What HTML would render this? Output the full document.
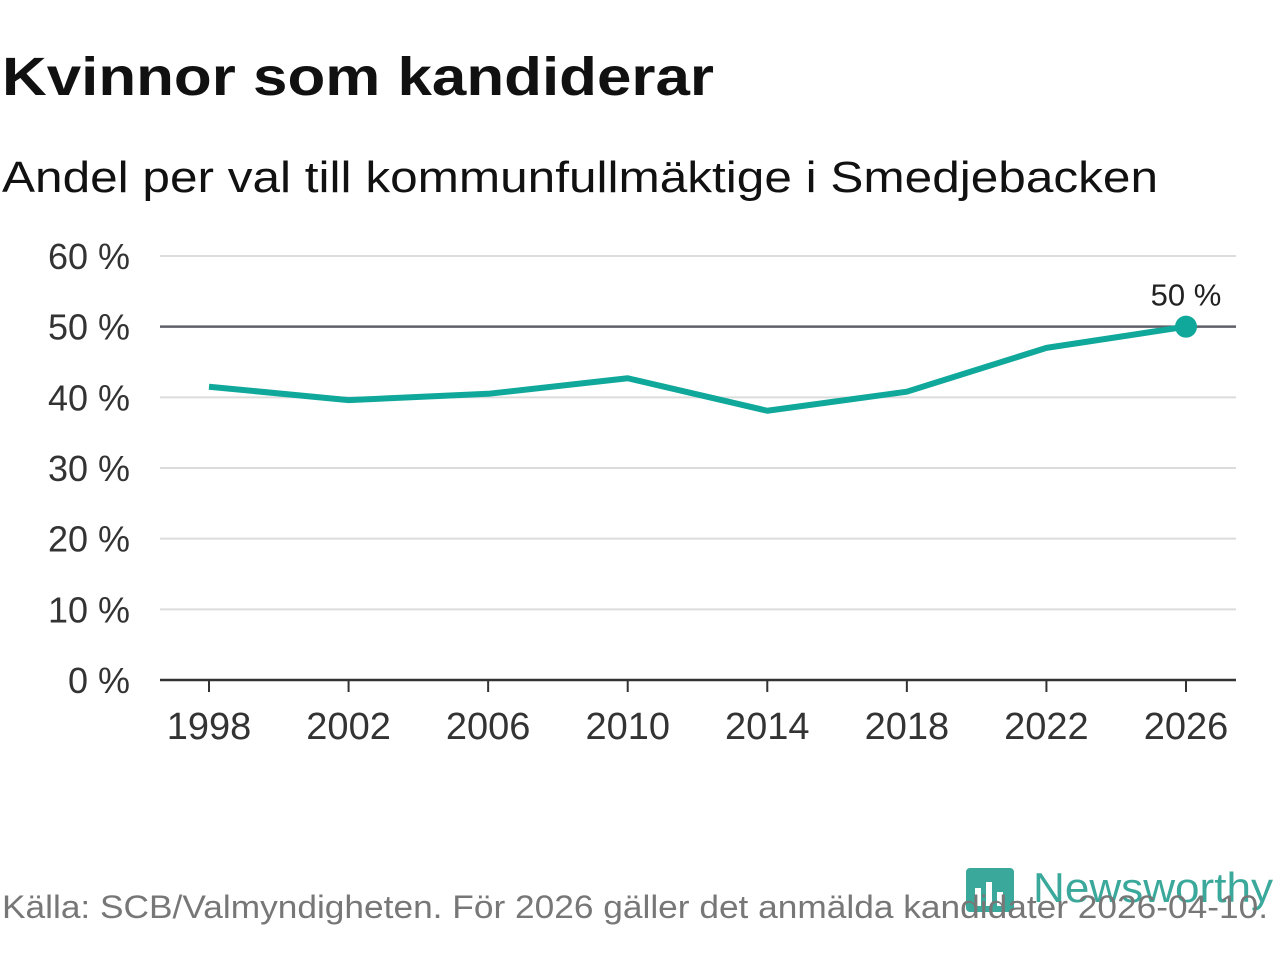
<!DOCTYPE html>
<html><head><meta charset="utf-8"><style>
html,body{margin:0;padding:0;background:#fff;}
svg{display:block;font-family:"Liberation Sans","DejaVu Sans",sans-serif;}
</style></head><body>
<svg id="chart" width="1280" height="960" viewBox="0 0 1280 960">
<text x="2" y="95" font-size="54" font-weight="bold" fill="#111" textLength="712" lengthAdjust="spacingAndGlyphs">Kvinnor som kandiderar</text>
<text x="2" y="192" font-size="44" fill="#111" textLength="1156" lengthAdjust="spacingAndGlyphs">Andel per val till kommunfullmäktige i Smedjebacken</text>
<g id="grid"></g>
<g id="xaxis"></g>
<g id="series"></g>
<g>
<rect x="966" y="868" width="48" height="44" rx="4" fill="#3aa89a"/>
<rect x="975" y="888" width="6" height="18" fill="#fff"/>
<rect x="986" y="882" width="6" height="24" fill="#fff"/>
<rect x="997" y="892" width="6" height="14" fill="#fff"/>
<text x="1033" y="902" font-size="42" fill="#3aa89a" textLength="240" lengthAdjust="spacingAndGlyphs">Newsworthy</text>
</g>
<text x="2" y="918" font-size="32" fill="#777" textLength="1266" lengthAdjust="spacingAndGlyphs">Källa: SCB/Valmyndigheten. För 2026 gäller det anmälda kandidater 2026-04-10.</text>
</svg>
<script>
const years=[1998,2002,2006,2010,2014,2018,2022,2026];
const shares=[41.5,39.6,40.5,42.7,38.1,40.8,47.0,50.0];
const yTicks=[0,10,20,30,40,50,60];
const NS="http://www.w3.org/2000/svg";
function xs(v){return 209+(v-1998)*(1186-209)/28;}
function ys(v){return 680-v*(680-256)/60;}
function mk(t,a,p){const e=document.createElementNS(NS,t);for(const k in a)e.setAttribute(k,a[k]);p.appendChild(e);return e;}
const grid=document.getElementById('grid'),xa=document.getElementById('xaxis'),se=document.getElementById('series');
yTicks.forEach(v=>{
 if(v>0){const l=mk('line',{x1:160,x2:1236,y1:ys(v),y2:ys(v),stroke:v===50?'#5f5f6a':'#dcdcdc','stroke-width':v===50?2.5:2},grid);
 
 }
 const t=mk('text',{x:130,y:ys(v)+13,'font-size':36,fill:'#333','text-anchor':'end'},grid);
 t.textContent=v+' %';
 
 
});
const ax=mk('line',{x1:160,x2:1236,y1:680,y2:680,stroke:'#333','stroke-width':2.5},xa);


years.forEach(y=>{
 const tk=mk('line',{x1:xs(y),x2:xs(y),y1:680,y2:692,stroke:'#333','stroke-width':2},xa);
 
 
 const t=mk('text',{x:xs(y),y:739,'font-size':38,fill:'#333','text-anchor':'middle'},xa);
 t.textContent=y;
 
 
});
const pl=mk('polyline',{points:years.map((y,i)=>xs(y)+','+ys(shares[i])).join(' '),fill:'none',stroke:'#0fa89a','stroke-width':6,'stroke-linejoin':'round'},se);


const n=years.length-1;
const dot=mk('circle',{cx:xs(years[n]),cy:ys(shares[n]),r:11,fill:'#0fa89a'},se);


const lb=mk('text',{x:xs(years[n]),y:ys(shares[n])-21,'font-size':31,fill:'#222','text-anchor':'middle'},se);
lb.textContent=Math.round(shares[n])+' %';


</script>
</body></html>
